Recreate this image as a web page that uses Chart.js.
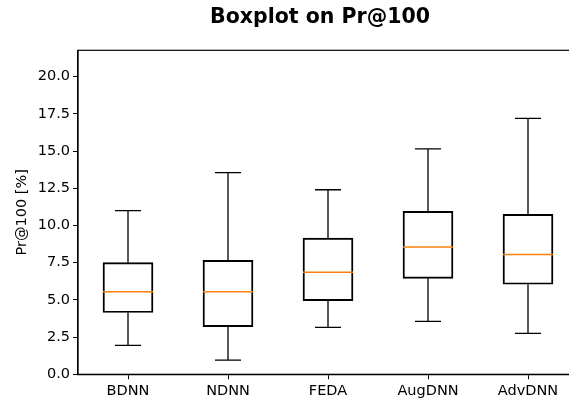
<!DOCTYPE html>
<html>
<head>
<meta charset="utf-8">
<script src="https://cdn.jsdelivr.net/npm/chart.js@4"></script>
<style>
  body { margin: 0; overflow: hidden; background: #fff; }
  canvas { display: block; }
</style>
</head>
<body>
<canvas id="grafico" width="640" height="403" style="width:640px;height:403px"></canvas>
<script>
var modelos = ['BDNN', 'NDNN', 'FEDA', 'AugDNN', 'AdvDNN'];
var bigodeInf = [1.95, 0.95, 3.15, 3.55, 2.75];
var q1 = [4.15, 3.2, 4.95, 6.45, 6.05];
var mediana = [5.55, 5.55, 6.85, 8.55, 8.05];
var q3 = [7.5, 7.65, 9.15, 10.95, 10.75];
var bigodeSup = [11.0, 13.55, 12.4, 15.15, 17.2];
var yTicks = [0, 2.5, 5, 7.5, 10, 12.5, 15, 17.5, 20];

var caixas = modelos.map(function (m, i) { return [q1[i], q3[i]]; });

// desenha bigodes, medianas e a moldura dos eixos
var desenhaBoxplot = {
    id: 'desenhaBoxplot',
    afterDatasetsDraw: function (chart) {
        var ctx = chart.ctx;
        var x = chart.scales.x;
        var y = chart.scales.y;
        var area = chart.chartArea;
        var meiaCaixa = 25;
        var meioCap = 13;
        ctx.save();
        ctx.lineCap = 'butt';
        for (var i = 0; i < modelos.length; i++) {
            var cx = x.getPixelForValue(i);
            ctx.strokeStyle = '#000';
            ctx.lineWidth = 1.3;
            ctx.beginPath();
            ctx.moveTo(cx, y.getPixelForValue(q3[i]));
            ctx.lineTo(cx, y.getPixelForValue(bigodeSup[i]));
            ctx.moveTo(cx, y.getPixelForValue(q1[i]));
            ctx.lineTo(cx, y.getPixelForValue(bigodeInf[i]));
            ctx.moveTo(cx - meioCap, y.getPixelForValue(bigodeSup[i]));
            ctx.lineTo(cx + meioCap, y.getPixelForValue(bigodeSup[i]));
            ctx.moveTo(cx - meioCap, y.getPixelForValue(bigodeInf[i]));
            ctx.lineTo(cx + meioCap, y.getPixelForValue(bigodeInf[i]));
            ctx.stroke();
            ctx.strokeStyle = '#ff7f0e';
            ctx.lineWidth = 1.5;
            ctx.beginPath();
            ctx.moveTo(cx - meiaCaixa, y.getPixelForValue(mediana[i]));
            ctx.lineTo(cx + meiaCaixa, y.getPixelForValue(mediana[i]));
            ctx.stroke();
        }
        ctx.strokeStyle = '#000';
        ctx.lineWidth = 1.2;
        ctx.strokeRect(area.left, area.top, area.right - area.left, area.bottom - area.top);
        ctx.restore();
    }
};

var ctx = document.getElementById('grafico').getContext('2d');
Chart.defaults.font.family = 'DejaVu Sans';
Chart.defaults.color = '#000';

new Chart(ctx, {
    type: 'bar',
    data: {
        labels: modelos,
        datasets: [{
            data: caixas,
            backgroundColor: 'rgba(255,255,255,0)',
            borderColor: '#000',
            borderWidth: 1.3,
            borderSkipped: false,
            barThickness: 50
        }]
    },
    options: {
        responsive: false,
        animation: false,
        plugins: {
            legend: { display: false },
            tooltip: { enabled: false },
            title: {
                display: true,
                text: 'Boxplot on Pr@100',
                font: { size: 20.5, weight: 'bold' },
                color: '#000',
                padding: { top: 5, bottom: 20.7 }
            }
        },
        scales: {
            x: {
                offset: true,
                grid: { drawOnChartArea: false, drawTicks: true, tickLength: 5, color: '#000', offset: false },
                border: { display: true, color: '#000', width: 1.2 },
                ticks: { font: { size: 14.5 }, color: '#000', padding: 3 },
                afterFit: function (s) { s.height = 28.7; }
            },
            y: {
                min: 0,
                max: 21.77,
                grid: { drawOnChartArea: false, drawTicks: true, tickLength: 5, color: '#000' },
                border: { display: true, color: '#000', width: 1.2 },
                ticks: {
                    font: { size: 14.5 },
                    color: '#000',
                    padding: 3,
                    callback: function (v) { return v.toFixed(1); }
                },
                afterBuildTicks: function (s) {
                    s.ticks = yTicks.map(function (v) { return { value: v }; });
                },
                title: {
                    display: true,
                    text: 'Pr@100 [%]',
                    font: { size: 14.5 },
                    color: '#000',
                    padding: { top: 14, bottom: 0 }
                },
                afterFit: function (s) { s.width = 78; }
            },
            // eixo vazio so para reservar a margem direita
            yDir: {
                position: 'right',
                display: true,
                min: 0,
                max: 1,
                grid: { display: false },
                border: { display: false },
                ticks: { display: false },
                afterFit: function (s) { s.width = 62; }
            }
        }
    },
    plugins: [desenhaBoxplot]
});
</script>
</body>
</html>
